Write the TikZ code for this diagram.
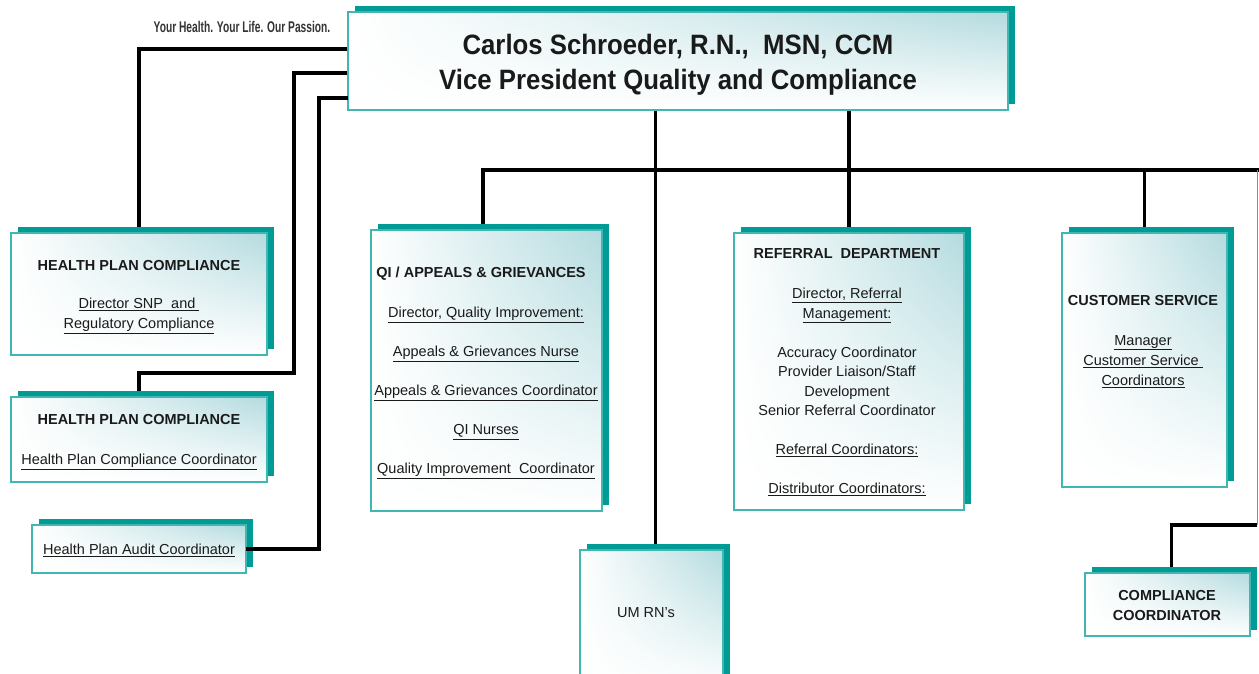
\documentclass[tikz,border=0pt]{standalone}
\usepackage{fontspec}
\usetikzlibrary{shadings}
\setmainfont{Liberation Sans}
\newfontfamily\vpfont[FakeStretch=0.92]{Liberation Sans}
\newfontfamily\tagfont[FakeStretch=0.66]{Liberation Sans}
\pgfdeclarelayer{bg}
\pgfsetlayers{bg,main}
\definecolor{tealdark}{HTML}{009B95}
\definecolor{tealedge}{HTML}{40B7B2}
\definecolor{teallight}{HTML}{B4DBDF}
\definecolor{inktext}{HTML}{1A1A1A}
\newcommand\orgbox[5]{%
  \fill[tealdark] ({#2+7},{#3-6}) rectangle ({#4+7},{#5-6});
  \node[orgbox, minimum width={(#4-#2)*1pt}, minimum height={(#5-#3)*1pt}] (#1) at ({(#2+#4)/2},{(#3+#5)/2}) {};
}
\begin{document}
\begin{tikzpicture}[x=1pt,y=-1pt,
  orgbox/.style={draw=tealedge, line width=1.3pt, shade, upper left=white, upper right=teallight, lower left=white, lower right=white, inner sep=0pt, outer sep=0pt},
  conn/.style={draw=black, line width=3.5pt, line join=miter},
  vptext/.style={font=\vpfont\fontsize{28}{35}\selectfont\bfseries, text=inktext, align=center, inner sep=0pt, anchor=north},
  ttl/.style={font=\fontsize{14.5}{20}\selectfont\bfseries, text=inktext, align=center, inner sep=0pt, anchor=north},
  body/.style={font=\fontsize{14.5}{20}\selectfont, text=inktext, align=center, inner sep=0pt, anchor=north},
  tagline/.style={font=\tagfont\fontsize{15.5}{17}\selectfont\bfseries, text=black!80, inner sep=0pt}
]
\useasboundingbox (0,0) rectangle (1259,673);
\clip (0,0) rectangle (1259,673);

% boxes
\orgbox{vp}{348}{12}{1008}{110}
\orgbox{hpc1}{11}{233}{267}{355}
\orgbox{hpc2}{11}{397}{267}{482}
\orgbox{audit}{32}{525}{246}{573}
\orgbox{qi}{371}{230}{602}{511}
\orgbox{ref}{734}{233}{964}{510}
\orgbox{cs}{1062}{233}{1227}{487}
\orgbox{um}{580}{550}{723}{690}
\orgbox{cc}{1085}{573}{1250}{636}

% texts
\node[tagline] (tag) at (242,27) {Your Health. Your Life. Our Passion.};
\node[vptext] (vpt) at (678,34) {Carlos Schroeder, R.N.,~ MSN, CCM\\Vice President Quality and Compliance};

\node[ttl] (hpc1t) at (139,260) {HEALTH PLAN COMPLIANCE};
\node[body] (hpc1b) at (139,298) {\underline{Director SNP~ and }\\\underline{Regulatory Compliance}};

\node[ttl] (hpc2t) at (139,414) {HEALTH PLAN COMPLIANCE};
\node[body] (hpc2b) at (139,454) {\underline{Health Plan Compliance Coordinator}};

\node[body] (auditt) at (139,544) {\underline{Health Plan Audit Coordinator}};

\node[ttl] (qit) at (481,267) {QI / APPEALS \& GRIEVANCES};
\node[body, font=\fontsize{14.5}{39}\selectfont] (qib) at (486,307) {\underline{Director, Quality Improvement:}\\\underline{Appeals \& Grievances Nurse}\\\underline{Appeals \& Grievances Coordinator}\\\underline{QI Nurses}\\\underline{Quality Improvement~ Coordinator}};

\node[ttl] (reft) at (847,248) {REFERRAL~ DEPARTMENT};
\node[body, font=\fontsize{14.5}{19.5}\selectfont] (refb) at (847,288) {\underline{Director, Referral}\\\underline{Management:}\\[19.5pt]Accuracy Coordinator\\Provider Liaison/Staff\\Development\\Senior Referral Coordinator\\[19.5pt]\underline{Referral Coordinators:}\\[19.5pt]\underline{Distributor Coordinators:}};

\node[ttl] (cst) at (1143,295) {CUSTOMER SERVICE};
\node[body] (csb) at (1143,335) {\underline{Manager}\\\underline{Customer Service }\\\underline{Coordinators}};

\node[body] (umt) at (646,607) {UM RN’s};

\node[ttl] (cct) at (1167,590) {COMPLIANCE\\COORDINATOR};

% connector junctions
\coordinate (j1) at (294,373);
\coordinate (j2) at (319,98);
\coordinate (busW) at (483,170);
\coordinate (busE) at (1259,170);
\coordinate (grayTop) at (1257,170);
\coordinate (grayBot) at (1257,525);

\begin{pgfonlayer}{bg}
\draw[conn] ([yshift=12pt]vp.west) -| (hpc1.north);
\draw[conn] ([yshift=-12pt]vp.west) -| (j1) -| (hpc2.north);
\draw[conn] (qi.north -| busW) |- (busE);
\draw[conn] (ref.north |- vp.south) -- (ref.north);
\draw[conn] ([xshift=4pt]um.north |- vp.south) -- ([xshift=4pt]um.north);
\draw[conn] (cs.north |- busE) -- (cs.north);
\draw[draw=black!45, line width=1pt] (grayTop) -- (grayBot);
\draw[conn] (grayBot) -| ([xshift=4pt]cc.north);
\end{pgfonlayer}
\draw[conn] (audit.east) -| (j2) -- (vp.west |- j2);
\end{tikzpicture}
\end{document}
